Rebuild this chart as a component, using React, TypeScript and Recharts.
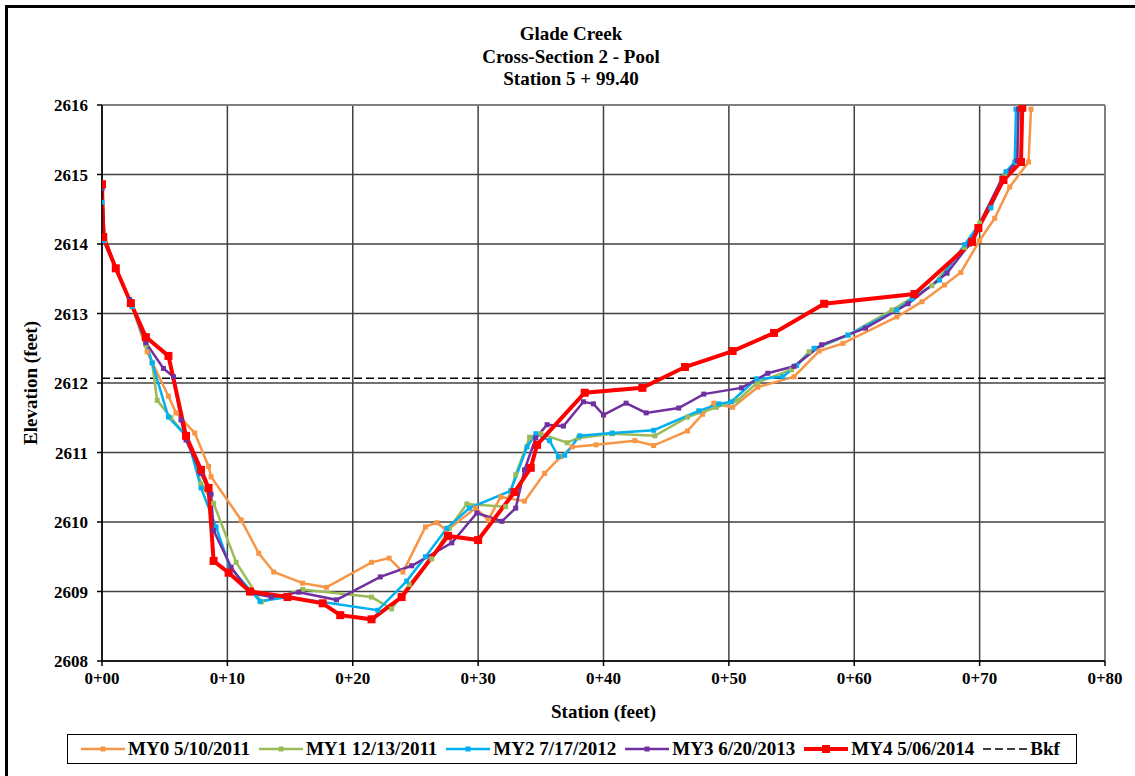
import React from 'react'
import { LineChart, Line, XAxis, YAxis, CartesianGrid, ReferenceLine, Label } from 'recharts'

// [station ft, elevation ft] pairs
const my0: [number, number][] = [
  [0, 2614.8], [0.2, 2614.1], [1.1, 2613.65], [2.4, 2613.1], [3.6, 2612.45], [5.3, 2611.81],
  [5.9, 2611.57], [7.4, 2611.28], [8.5, 2610.8], [8.7, 2610.65], [11.1, 2610.03], [12.5, 2609.55],
  [13.7, 2609.28], [16.0, 2609.12], [17.9, 2609.06], [21.5, 2609.42], [22.9, 2609.48], [24.0, 2609.28],
  [25.8, 2609.93], [26.7, 2609.99], [27.5, 2609.88], [29.8, 2610.2], [30.8, 2610.03], [31.8, 2610.36],
  [33.7, 2610.3], [35.3, 2610.7], [36.6, 2610.94], [37.5, 2611.08], [39.4, 2611.11], [42.5, 2611.17],
  [44.0, 2611.1], [46.7, 2611.31], [47.9, 2611.55], [48.8, 2611.71], [50.3, 2611.65], [52.3, 2611.94],
  [55.2, 2612.09], [57.2, 2612.46], [59.1, 2612.57], [63.4, 2612.95], [65.4, 2613.17], [67.2, 2613.41],
  [68.5, 2613.59], [70.0, 2614.05], [71.2, 2614.37], [72.4, 2614.82], [73.9, 2615.18], [74.1, 2615.94],
]

const my1: [number, number][] = [
  [0, 2614.8], [0.2, 2614.05], [1.1, 2613.65], [2.4, 2613.1], [3.5, 2612.55], [4.0, 2612.29],
  [4.4, 2611.75], [5.5, 2611.5], [6.8, 2611.22], [7.9, 2610.55], [8.9, 2610.27], [10.7, 2609.42],
  [12.7, 2608.85], [16.0, 2609.03], [21.5, 2608.92], [23.1, 2608.75], [24.5, 2609.1], [26.3, 2609.47],
  [27.7, 2609.91], [29.1, 2610.26], [32.2, 2610.22], [33.0, 2610.68], [34.1, 2611.22], [35.0, 2611.27],
  [37.1, 2611.14], [38.0, 2611.21], [40.7, 2611.27], [44.1, 2611.24], [46.7, 2611.51], [49.0, 2611.65],
  [50.7, 2611.75], [52.3, 2612.01], [55.0, 2612.19], [56.4, 2612.45], [59.5, 2612.69], [63.0, 2613.05],
  [66.2, 2613.4], [68.8, 2613.95], [70.0, 2614.3], [72.0, 2614.99], [73.0, 2615.17], [73.1, 2615.96],
]

const my2: [number, number][] = [
  [0, 2614.6], [0.1, 2614.05], [1.1, 2613.65], [2.4, 2613.1], [3.5, 2612.6], [4.0, 2612.29],
  [5.3, 2611.51], [6.8, 2611.22], [7.9, 2610.49], [9.1, 2609.93], [10.2, 2609.35], [12.6, 2608.86],
  [14.9, 2608.92], [22.0, 2608.73], [24.3, 2609.15], [25.8, 2609.5], [27.5, 2609.91], [29.3, 2610.2],
  [32.6, 2610.45], [33.9, 2611.08], [34.6, 2611.27], [35.7, 2611.17], [36.4, 2610.94], [36.9, 2610.96],
  [38.1, 2611.24], [40.7, 2611.28], [44.0, 2611.32], [47.6, 2611.6], [49.2, 2611.7], [50.2, 2611.73],
  [52.2, 2612.06], [54.3, 2612.09], [55.4, 2612.25], [56.8, 2612.5], [59.5, 2612.69], [63.4, 2613.05],
  [64.6, 2613.21], [66.8, 2613.48], [68.8, 2613.99], [70.9, 2614.52], [72.1, 2615.04], [72.8, 2615.18],
  [72.9, 2615.94],
]

const my3: [number, number][] = [
  [0, 2614.8], [0.2, 2614.1], [1.1, 2613.65], [2.2, 2613.2], [3.5, 2612.58], [4.9, 2612.21],
  [5.7, 2612.09], [6.3, 2611.47], [6.7, 2611.18], [7.9, 2610.7], [8.7, 2610.4], [8.9, 2609.88],
  [10.3, 2609.35], [11.8, 2608.98], [13.5, 2608.92], [15.7, 2608.99], [18.7, 2608.88], [22.2, 2609.21],
  [24.7, 2609.37], [27.9, 2609.7], [29.9, 2610.13], [31.9, 2610.01], [33.0, 2610.2], [33.7, 2610.75],
  [34.6, 2611.21], [35.5, 2611.4], [36.8, 2611.38], [38.4, 2611.73], [39.2, 2611.7], [40.0, 2611.54],
  [41.8, 2611.71], [43.4, 2611.57], [46.0, 2611.64], [48.0, 2611.84], [51.0, 2611.93], [53.1, 2612.14],
  [55.2, 2612.24], [57.4, 2612.55], [60.9, 2612.79], [64.3, 2613.14], [67.4, 2613.58], [69.2, 2614.0],
  [71.8, 2614.95], [73.0, 2615.2], [73.1, 2615.94],
]

const my4: [number, number][] = [
  [0, 2614.86], [0.1, 2614.1], [1.1, 2613.65], [2.3, 2613.15], [3.5, 2612.66], [5.3, 2612.39],
  [6.7, 2611.24], [7.9, 2610.75], [8.5, 2610.49], [8.9, 2609.44], [10.1, 2609.27], [11.8, 2609.0],
  [14.8, 2608.92], [17.6, 2608.83], [19.0, 2608.66], [21.5, 2608.6], [23.9, 2608.92], [27.6, 2609.8],
  [30.0, 2609.74], [32.9, 2610.43], [34.2, 2610.78], [34.7, 2611.11], [38.5, 2611.86], [43.1, 2611.93],
  [46.5, 2612.23], [50.3, 2612.46], [53.6, 2612.72], [57.6, 2613.14], [64.8, 2613.28], [69.4, 2614.03],
  [69.9, 2614.23], [71.9, 2614.92], [73.3, 2615.18], [73.4, 2615.96],
]

const BKF = 2612.07

const stationTicks = [0, 10, 20, 30, 40, 50, 60, 70, 80]
const elevationTicks = [2608, 2609, 2610, 2611, 2612, 2613, 2614, 2615, 2616]

const titleLines = ['Glade Creek', 'Cross-Section 2 - Pool', 'Station 5 + 99.40']

const FONT = '"Liberation Serif", "Times New Roman", serif'

const series = [
  { name: 'MY0 5/10/2011', points: my0, color: '#F79646', width: 2.5, dot: 5 },
  { name: 'MY1 12/13/2011', points: my1, color: '#9BBB59', width: 2.5, dot: 5 },
  { name: 'MY2 7/17/2012', points: my2, color: '#00B0F0', width: 2.5, dot: 5 },
  { name: 'MY3 6/20/2013', points: my3, color: '#7030A0', width: 2.5, dot: 5 },
  { name: 'MY4 5/06/2014', points: my4, color: '#FF0000', width: 4, dot: 8 },
]

const toRows = (pts: [number, number][]) => pts.map(([x, y]) => ({ x, y }))

const squareDot = (size: number, color: string) => (props: any) => {
  const { cx, cy, index } = props
  if (cx == null || cy == null) return <g key={index} />
  return <rect key={index} x={cx - size / 2} y={cy - size / 2} width={size} height={size} fill={color} />
}

const stationLabel = (v: number) => `0+${v < 10 ? '0' + v : v}`

const tickStyle = { fontFamily: FONT, fontSize: 17, fontWeight: 700, fill: '#000' }

function ChartLegend() {
  return (
    <div
      style={{
        position: 'absolute',
        left: 67,
        top: 734,
        width: 995,
        height: 28,
        border: '1.5px solid #000',
        display: 'flex',
        alignItems: 'center',
        paddingLeft: 13,
        fontFamily: FONT,
        fontWeight: 700,
        fontSize: 19,
        boxSizing: 'content-box',
      }}
    >
      {series.map((s) => (
        <div key={s.name} style={{ display: 'flex', alignItems: 'center', marginRight: 9 }}>
          <svg width={44} height={10}>
            <line x1={0} y1={5} x2={44} y2={5} stroke={s.color} strokeWidth={s.width} />
            <rect x={22 - s.dot / 2} y={5 - s.dot / 2} width={s.dot} height={s.dot} fill={s.color} />
          </svg>
          <span style={{ marginLeft: 3 }}>{s.name}</span>
        </div>
      ))}
      <div style={{ display: 'flex', alignItems: 'center' }}>
        <svg width={44} height={10}>
          <line x1={0} y1={5} x2={44} y2={5} stroke="#000" strokeWidth={1.5} strokeDasharray="8 4" />
        </svg>
        <span style={{ marginLeft: 3 }}>Bkf</span>
      </div>
    </div>
  )
}

export default function App() {
  return (
    <div
      style={{
        position: 'absolute',
        left: 0,
        top: 0,
        width: 1135,
        height: 776,
        overflow: 'hidden',
        background: '#fff',
      }}
    >
      <div
        style={{
          position: 'absolute',
          left: 5,
          top: 5,
          width: 1140,
          height: 780,
          border: '3px solid #000',
        }}
      />
      {titleLines.map((t, i) => (
        <div
          key={t}
          style={{
            position: 'absolute',
            left: 0,
            width: 1142,
            top: 23 + i * 22.5,
            textAlign: 'center',
            fontFamily: FONT,
            fontWeight: 700,
            fontSize: 19,
            lineHeight: '22px',
          }}
        >
          {t}
        </div>
      ))}
      <div style={{ position: 'absolute', left: 0, top: 0 }}>
        <LineChart width={1135} height={776} margin={{ top: 105, right: 30, bottom: 0, left: 0 }}>
          <CartesianGrid stroke="#404040" strokeWidth={1.5} />
          <XAxis
            type="number"
            dataKey="x"
            domain={[0, 80]}
            ticks={stationTicks}
            tickFormatter={stationLabel}
            allowDataOverflow
            height={115}
            tickSize={5}
            tickMargin={6}
            stroke="#000"
            strokeWidth={1.5}
            tick={tickStyle}
          >
            <Label
              value="Station (feet)"
              position="insideTop"
              offset={44}
              style={{ fontFamily: FONT, fontSize: 19, fontWeight: 700, fill: '#000' }}
            />
          </XAxis>
          <YAxis
            type="number"
            domain={[2608, 2616]}
            ticks={elevationTicks}
            allowDataOverflow
            width={102}
            tickSize={5}
            tickMargin={9}
            stroke="#000"
            strokeWidth={1.5}
            tick={tickStyle}
          >
            <Label
              value="Elevation (feet)"
              angle={-90}
              position="insideLeft"
              offset={30}
              style={{ fontFamily: FONT, fontSize: 19, fontWeight: 700, fill: '#000', textAnchor: 'middle' }}
            />
          </YAxis>
          <ReferenceLine y={2616} stroke="#808080" strokeWidth={2} />
          <ReferenceLine x={80} stroke="#808080" strokeWidth={2} />
          <ReferenceLine y={BKF} stroke="#000" strokeWidth={1.5} strokeDasharray="8 4" />
          {series.map((s) => (
            <Line
              key={s.name}
              data={toRows(s.points)}
              dataKey="y"
              name={s.name}
              type="linear"
              stroke={s.color}
              strokeWidth={s.width}
              dot={squareDot(s.dot, s.color)}
              activeDot={false}
              isAnimationActive={false}
            />
          ))}
        </LineChart>
      </div>
      <ChartLegend />
    </div>
  )
}
